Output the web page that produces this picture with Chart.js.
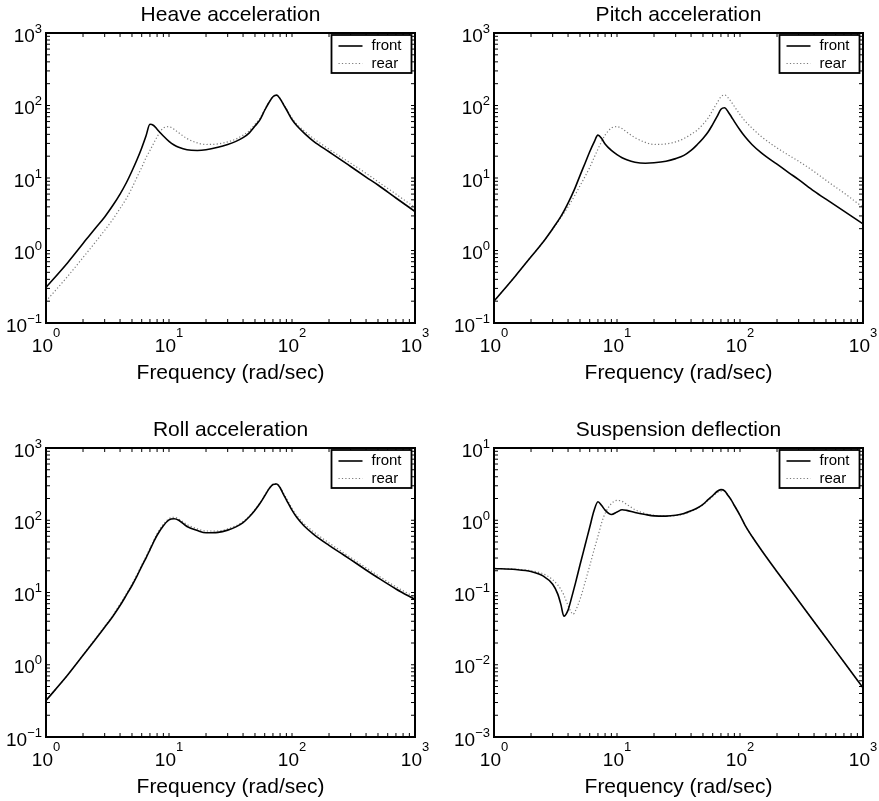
<!DOCTYPE html>
<html>
<head>
<meta charset="utf-8">
<title>Frequency responses</title>
<script src="https://cdn.jsdelivr.net/npm/chart.js@4.4.1/dist/chart.umd.min.js"></script>
<style>
  html, body { margin: 0; padding: 0; background: #fff; }
  #page { position: relative; width: 879px; height: 801px; }
  #page canvas { position: absolute; }
</style>
</head>
<body>
<div id="page">
  <canvas id="heave" width="440" height="400" style="left:0;top:0"></canvas>
  <canvas id="pitch" width="439" height="400" style="left:440px;top:0"></canvas>
  <canvas id="roll" width="440" height="401" style="left:0;top:400px"></canvas>
  <canvas id="defl" width="439" height="401" style="left:440px;top:400px"></canvas>
</div>
<script>
// frequencies (rad/sec) for the three acceleration plots
const freq = [1, 1.5, 2, 2.5, 3, 3.5, 4, 4.5, 5, 5.5, 6, 6.5, 7, 7.5, 8, 9, 10, 11, 12, 14,
  17, 20, 25, 30, 35, 40, 45, 50, 55, 60, 65, 70, 75, 80, 85, 90, 100, 110, 125, 150,
  200, 250, 300, 400, 500, 700, 1000]

const heaveFront = [0.31, 0.68, 1.25, 2.0, 2.9, 4.2, 6.0, 8.6, 12.5, 18, 26, 38, 55, 53, 47, 38, 32, 28.5, 26.5, 24.5,
  24, 24.5, 26.5, 29, 32, 36, 42, 52, 64, 86, 110, 132, 139, 124, 104, 88, 64, 52, 42, 32,
  23, 17.8, 14.4, 10.3, 8.0, 5.3, 3.45]
const heaveRear = [0.2, 0.44, 0.8, 1.28, 1.9, 2.7, 3.8, 5.2, 7.3, 10.3, 14, 19, 24, 30, 37, 49, 51, 47, 42, 35,
  30.5, 29, 29.5, 31.5, 34.5, 39, 45, 55, 67, 88, 111, 133, 139, 125, 106, 90, 67, 55, 45, 35,
  25, 19.5, 16, 11.6, 8.9, 6.0, 3.9]

const pitchFront = [0.2, 0.45, 0.82, 1.3, 2.0, 2.95, 4.5, 6.9, 10.8, 16, 23, 31, 39, 35, 29.5, 24, 21, 19, 17.8, 16.5,
  16, 16.2, 17, 18.5, 20.5, 24, 29, 35, 43, 55, 70, 89, 93, 82, 70, 60, 46, 37, 29, 22,
  15.5, 11.8, 9.5, 6.6, 5.1, 3.5, 2.33]
const pitchRear = [0.2, 0.45, 0.82, 1.3, 1.95, 2.85, 4.0, 5.6, 7.8, 10.5, 14, 19, 25, 32, 39, 49, 51, 48, 43, 36,
  31, 29, 29.5, 31.5, 35, 40, 46, 55, 67, 86, 108, 132, 140, 128, 112, 97, 75, 61, 49, 37,
  26, 20.5, 17, 12.3, 9.3, 6.2, 3.95]

const rollFront = [0.32, 0.72, 1.35, 2.2, 3.3, 4.7, 6.6, 9.2, 12.5, 17, 23, 30, 39, 50, 62, 84, 101, 105, 100, 82,
  72, 67, 68, 73, 81, 93, 112, 138, 172, 218, 272, 312, 318, 282, 230, 192, 138, 108, 84, 64,
  45, 35, 28.5, 20.5, 16, 11.2, 8.0]
const rollRear = [0.32, 0.72, 1.36, 2.25, 3.4, 4.85, 6.9, 9.6, 13, 17.8, 24, 31.5, 41, 52, 65, 88, 105, 110, 104, 87,
  76, 71, 71, 76, 84, 96, 115, 141, 175, 221, 275, 315, 322, 290, 238, 202, 146, 115, 90, 69,
  48.5, 37.5, 30.5, 22, 17.2, 12, 8.6]

// suspension deflection uses a finer grid around the notch near 4 rad/sec
const freqDefl = [1, 1.5, 2, 2.5, 3, 3.3, 3.5, 3.7, 4, 4.2, 4.4, 4.6, 5, 5.5, 6, 6.5, 7, 7.5, 8, 9,
  10, 11, 12, 14, 17, 20, 25, 30, 35, 40, 45, 50, 55, 60, 65, 70, 75, 80, 85, 90,
  100, 110, 125, 150, 200, 250, 300, 400, 500, 700, 1000]
const deflFront = [0.215, 0.208, 0.195, 0.17, 0.13, 0.095, 0.068, 0.047, 0.057, 0.076, 0.102, 0.136, 0.24, 0.45, 0.8, 1.35, 1.8, 1.6, 1.38, 1.2,
  1.3, 1.4, 1.37, 1.28, 1.2, 1.15, 1.14, 1.17, 1.24, 1.35, 1.48, 1.66, 1.93, 2.2, 2.5, 2.65, 2.55, 2.2, 1.9, 1.6,
  1.17, 0.85, 0.6, 0.382, 0.194, 0.116, 0.0763, 0.0394, 0.0236, 0.0109, 0.0048]
const deflRear = [0.215, 0.21, 0.2, 0.182, 0.15, 0.127, 0.11, 0.092, 0.066, 0.055, 0.05, 0.056, 0.08, 0.138, 0.234, 0.385, 0.6, 0.92, 1.24, 1.7,
  1.88, 1.83, 1.66, 1.4, 1.24, 1.17, 1.14, 1.16, 1.22, 1.33, 1.46, 1.63, 1.88, 2.12, 2.4, 2.52, 2.5, 2.2, 1.9, 1.6,
  1.17, 0.85, 0.6, 0.382, 0.194, 0.116, 0.0763, 0.0394, 0.0236, 0.0109, 0.0048]

const seriesNames = ["front", "rear"]
const xAxisTitle = "Frequency (rad/sec)"

const FONT = "'Liberation Sans', Arial, Helvetica, sans-serif"
const TICK = 4

// walk 1..9 x 10^n between min and max
function eachLogTick(min, max, fn) {
  const d0 = Math.floor(Math.log10(min))
  const d1 = Math.ceil(Math.log10(max))
  for (let d = d0; d <= d1; d++) {
    for (let m = 1; m <= 9; m++) {
      const v = m * Math.pow(10, d)
      if (v >= min * 0.999 && v <= max * 1.001) fn(v, m === 1, d)
    }
  }
}

function expText(d) {
  return d < 0 ? "\u2212" + -d : String(d)
}

// boxed axes with inward ticks and 10^n labels
const axesBox = {
  id: "axesBox",
  afterDraw(chart) {
    const { ctx, chartArea: a } = chart
    const xs = chart.scales.x
    const ys = chart.scales.y
    ctx.save()
    ctx.strokeStyle = "#000"
    ctx.lineWidth = 1
    ctx.beginPath()
    eachLogTick(xs.min, xs.max, (v) => {
      const px = xs.getPixelForValue(v)
      ctx.moveTo(px, a.bottom)
      ctx.lineTo(px, a.bottom - TICK)
      ctx.moveTo(px, a.top)
      ctx.lineTo(px, a.top + TICK)
    })
    eachLogTick(ys.min, ys.max, (v) => {
      const py = ys.getPixelForValue(v)
      ctx.moveTo(a.left, py)
      ctx.lineTo(a.left + TICK, py)
      ctx.moveTo(a.right, py)
      ctx.lineTo(a.right - TICK, py)
    })
    ctx.stroke()
    ctx.lineWidth = 2
    ctx.strokeRect(a.left, a.top, a.right - a.left, a.bottom - a.top)

    ctx.fillStyle = "#000"
    ctx.textBaseline = "alphabetic"
    ctx.textAlign = "left"
    const label = (d) => {
      ctx.font = "19px " + FONT
      const w1 = ctx.measureText("10").width
      ctx.font = "13px " + FONT
      const w2 = ctx.measureText(expText(d)).width
      return { w1, w2 }
    }
    eachLogTick(xs.min, xs.max, (v, major, d) => {
      if (!major) return
      const px = xs.getPixelForValue(v)
      const { w1, w2 } = label(d)
      const x0 = px - (w1 + w2) / 2
      ctx.font = "19px " + FONT
      ctx.fillText("10", x0, a.bottom + 29)
      ctx.font = "13px " + FONT
      ctx.fillText(expText(d), x0 + w1, a.bottom + 14)
    })
    eachLogTick(ys.min, ys.max, (v, major, d) => {
      if (!major) return
      const py = ys.getPixelForValue(v)
      const { w1, w2 } = label(d)
      const x0 = a.left - 4 - w2 - w1
      ctx.font = "19px " + FONT
      ctx.fillText("10", x0, py + 8.5)
      ctx.font = "13px " + FONT
      ctx.fillText(expText(d), x0 + w1, py - 0.5)
    })
    ctx.restore()
  },
}

// small boxed legend in the upper right corner of the plot
const boxLegend = {
  id: "boxLegend",
  afterDraw(chart) {
    const { ctx, chartArea: a } = chart
    const w = 80
    const h = 38
    const x = a.right - 3.5 - w
    const y = a.top + 2
    ctx.save()
    ctx.fillStyle = "#fff"
    ctx.fillRect(x, y, w, h)
    ctx.strokeStyle = "#000"
    ctx.lineWidth = 1.8
    ctx.strokeRect(x, y, w, h)
    chart.data.datasets.forEach((ds, i) => {
      const ly = y + 11 + i * 17.5
      ctx.beginPath()
      ctx.strokeStyle = ds.borderColor
      ctx.lineWidth = ds.borderWidth
      ctx.setLineDash(ds.borderDash || [])
      ctx.moveTo(x + 7, ly)
      ctx.lineTo(x + 31, ly)
      ctx.stroke()
      ctx.setLineDash([])
      ctx.fillStyle = "#000"
      ctx.font = "15px " + FONT
      ctx.textBaseline = "middle"
      ctx.fillText(ds.label, x + 40, ly)
    })
    ctx.restore()
  },
}

function toPoints(xs, ys) {
  return xs.map((x, i) => ({ x: x, y: ys[i] }))
}

function makePanel(p) {
  const canvas = document.getElementById(p.id)
  const H = canvas.height
  const W = canvas.width
  new Chart(canvas, {
    type: "line",
    data: {
      datasets: [
        {
          label: seriesNames[0],
          data: toPoints(p.x, p.front),
          borderColor: "#000",
          borderWidth: 1.6,
          pointRadius: 0,
          cubicInterpolationMode: "monotone",
        },
        {
          label: seriesNames[1],
          data: toPoints(p.x, p.rear),
          borderColor: "#7a7a7a",
          borderWidth: 1.2,
          borderDash: [1.2, 2.2],
          pointRadius: 0,
          cubicInterpolationMode: "monotone",
        },
      ],
    },
    options: {
      responsive: false,
      animation: false,
      devicePixelRatio: 1,
      layout: { padding: { left: p.left, right: W - p.right, top: 0, bottom: 0 } },
      plugins: {
        legend: { display: false },
        tooltip: { enabled: false },
        title: {
          display: true,
          text: p.title,
          color: "#000",
          font: { family: FONT, size: 21, weight: "normal", lineHeight: 1 },
          padding: { top: p.top - 28.5, bottom: 7.5 },
        },
      },
      scales: {
        x: {
          type: "logarithmic",
          min: 1,
          max: 1000,
          grid: { display: false },
          border: { display: false },
          ticks: { display: false },
          title: {
            display: true,
            text: xAxisTitle,
            color: "#000",
            font: { family: FONT, size: 21, weight: "normal", lineHeight: 1 },
            padding: { top: 0, bottom: H - p.xTitle - 10.5 },
          },
          afterFit(s) {
            s.height = H - p.bottom
          },
        },
        y: {
          type: "logarithmic",
          min: p.yMin,
          max: p.yMax,
          grid: { display: false },
          border: { display: false },
          ticks: { display: false },
          afterFit(s) {
            s.width = 0
          },
        },
      },
    },
    plugins: [axesBox, boxLegend],
  })
}

makePanel({ id: "heave", title: "Heave acceleration", x: freq, front: heaveFront, rear: heaveRear,
  yMin: 0.1, yMax: 1000, left: 46, right: 415, top: 33, bottom: 323, xTitle: 373 })
makePanel({ id: "pitch", title: "Pitch acceleration", x: freq, front: pitchFront, rear: pitchRear,
  yMin: 0.1, yMax: 1000, left: 54, right: 423, top: 33, bottom: 323, xTitle: 373 })
makePanel({ id: "roll", title: "Roll acceleration", x: freq, front: rollFront, rear: rollRear,
  yMin: 0.1, yMax: 1000, left: 46, right: 415, top: 48, bottom: 337, xTitle: 387.5 })
makePanel({ id: "defl", title: "Suspension deflection", x: freqDefl, front: deflFront, rear: deflRear,
  yMin: 0.001, yMax: 10, left: 54, right: 423, top: 48, bottom: 337, xTitle: 387.5 })
</script>
</body>
</html>
